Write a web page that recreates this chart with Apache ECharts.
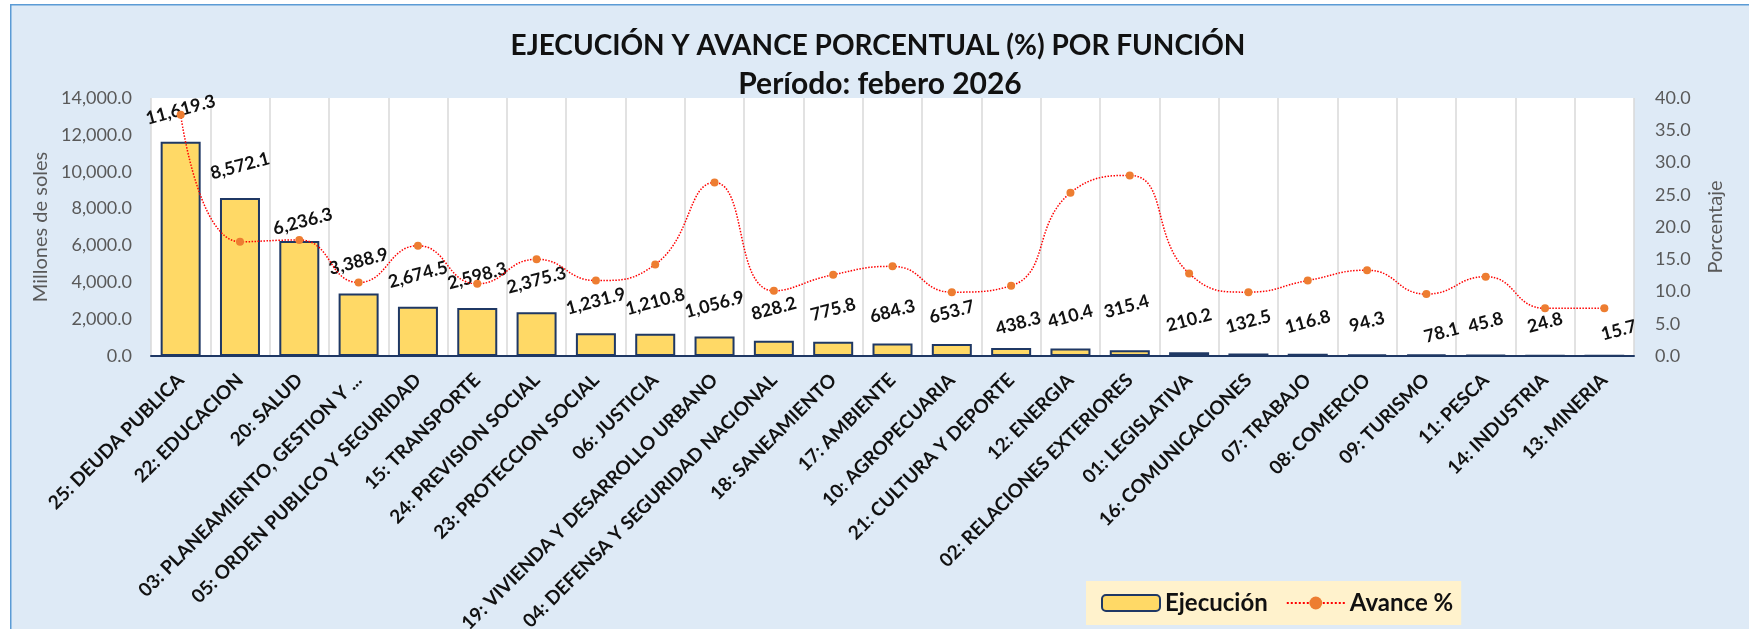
<!DOCTYPE html>
<html><head><meta charset="utf-8">
<script src="https://cdn.jsdelivr.net/npm/echarts@6/dist/echarts.min.js"></script>
<style>html,body{margin:0;padding:0;background:#fff}#c{width:1749px;height:629px}</style>
</head><body><div id="c"></div>
<script>
const categories = ["25: DEUDA PUBLICA","22: EDUCACION","20: SALUD","03: PLANEAMIENTO, GESTION Y ...","05: ORDEN PUBLICO Y SEGURIDAD","15: TRANSPORTE","24: PREVISION SOCIAL","23: PROTECCION SOCIAL","06: JUSTICIA","19: VIVIENDA Y DESARROLLO URBANO","04: DEFENSA Y SEGURIDAD NACIONAL","18: SANEAMIENTO","17: AMBIENTE","10: AGROPECUARIA","21: CULTURA Y DEPORTE","12: ENERGIA","02: RELACIONES EXTERIORES","01: LEGISLATIVA","16: COMUNICACIONES","07: TRABAJO","08: COMERCIO","09: TURISMO","11: PESCA","14: INDUSTRIA","13: MINERIA"];
const ejecucion = [11619.3,8572.1,6236.3,3388.9,2674.5,2598.3,2375.3,1231.9,1210.8,1056.9,828.2,775.8,684.3,653.7,438.3,410.4,315.4,210.2,132.5,116.8,94.3,78.1,45.8,24.8,15.7];
const avance = [37.4,17.7,18.0,11.4,17.1,11.2,15.0,11.7,14.2,26.9,10.1,12.6,13.9,9.9,10.9,25.3,28.0,12.8,9.9,11.7,13.3,9.6,12.3,7.4,7.4];
const leftAxis = {min:0, max:14000, interval:2000};
const rightAxis = {min:0, max:40, interval:5};
const titleLines = ["EJECUCIÓN Y AVANCE PORCENTUAL (%) POR FUNCIÓN","Período: febero 2026"];
const seriesNames = ["Ejecución","Avance %"];
const axisNames = ["Millones de soles","Porcentaje"];

// label nudges (pixel offsets, styling only)
const labelNudge = {2:[0,13],14:[5,9],16:[0,-12],21:[12,14],24:[12,11]};

const fmt1 = v => Number(v).toLocaleString('en-US',{minimumFractionDigits:1,maximumFractionDigits:1});
const FONT = 'Lato, "Open Sans", sans-serif';

const chart = echarts.init(document.getElementById('c'));
const barData = ejecucion.map((v,i)=> labelNudge[i] ? {value:v, label:{offset:labelNudge[i]}} : v);

chart.setOption({
  backgroundColor:'#fff',
  textStyle:{fontFamily:FONT},
  graphic:[{type:'rect', left:10, top:4, z:-10, silent:true,
    shape:{width:1800, height:700},
    style:{fill:'#DEEAF6', stroke:'#5B9BD5', lineWidth:1.5}}],
  title:[
    {text:titleLines[0], left:878, top:29, textAlign:'center', padding:0,
     textStyle:{fontFamily:FONT, fontSize:28, fontWeight:'bold', color:'#111', lineHeight:34}},
    {text:titleLines[1], left:880, top:67, textAlign:'center', padding:0,
     textStyle:{fontFamily:FONT, fontSize:30, fontWeight:'bold', color:'#111', lineHeight:34}}
  ],
  legend:{
    left:1086, top:581, backgroundColor:'#FFF2CC', padding:[10,8,10,15],
    itemWidth:58, itemHeight:16, itemGap:18,
    textStyle:{fontFamily:FONT, fontSize:24, fontWeight:'bold', color:'#111'},
    data:seriesNames
  },
  grid:{left:151, right:115, top:98, bottom:273, show:true, backgroundColor:'#fff', borderWidth:0,
        containLabel:false, outerBoundsMode:'none'},
  xAxis:{
    type:'category', data:categories,
    axisLine:{show:true, lineStyle:{color:'#1F3864', width:2}},
    axisTick:{show:false},
    splitLine:{show:true, lineStyle:{color:'#D9D9D9', width:1.5}},
    axisLabel:{rotate:45, interval:0, margin:21, fontFamily:FONT, fontSize:19, fontWeight:'bold', color:'#111'}
  },
  yAxis:[
    {type:'value', min:leftAxis.min, max:leftAxis.max, interval:leftAxis.interval,
     name:axisNames[0], nameLocation:'middle', nameGap:100, nameRotate:90,
     nameTextStyle:{fontFamily:FONT, fontSize:20, color:'#595959'},
     axisLine:{show:false}, axisTick:{show:false}, splitLine:{show:false},
     axisLabel:{formatter:fmt1, margin:19, fontFamily:FONT, fontSize:18, color:'#595959'}},
    {type:'value', min:rightAxis.min, max:rightAxis.max, interval:rightAxis.interval,
     name:axisNames[1], nameLocation:'middle', nameGap:72, nameRotate:90,
     nameTextStyle:{fontFamily:FONT, fontSize:20, color:'#595959'},
     axisLine:{show:false}, axisTick:{show:false}, splitLine:{show:false},
     axisLabel:{formatter:fmt1, margin:21, fontFamily:FONT, fontSize:18, color:'#595959'}}
  ],
  series:[
    {name:seriesNames[0], type:'bar', yAxisIndex:0, data:barData, barWidth:40,
     itemStyle:{color:'#FFD966', borderColor:'#1F3864', borderWidth:2},
     label:{show:true, position:'top', distance:32, rotate:15, align:'center', verticalAlign:'middle',
       formatter:p=>fmt1(p.value), fontFamily:FONT, fontSize:18, fontWeight:'bold', color:'#111'},
     z:2},
    {name:seriesNames[1], type:'line', yAxisIndex:1, data:avance, smooth:0.5,
     symbol:'circle', symbolSize:8,
     lineStyle:{color:'#FF0000', width:1.5, type:'dotted'},
     itemStyle:{color:'#ED7D31'}, z:3}
  ]
});
</script></body></html>
